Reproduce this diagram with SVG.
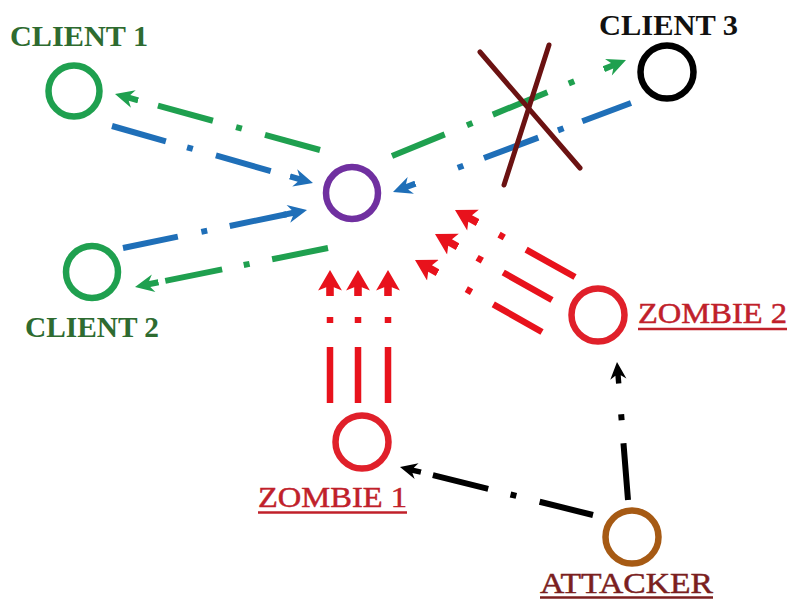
<svg xmlns="http://www.w3.org/2000/svg" width="793" height="601" viewBox="0 0 793 601">
  <style>
    .node { fill: none; stroke-width: 6.5; }
    .lbl { font-family: "Liberation Serif", "Times New Roman", serif; font-size: 30px; }
    .lbl-b { font-weight: bold; font-size: 29px; }
    .link { fill: none; stroke-linecap: butt; }
    .g { stroke: #1fa04f; stroke-width: 6; marker-end: url(#ah-green); }
    .b { stroke: #1f6fb8; stroke-width: 6; marker-end: url(#ah-blue); }
    .r { stroke: #e8121c; stroke-width: 6.5; marker-end: url(#ah-red); }
    .k { stroke: #000; stroke-width: 6; marker-end: url(#ah-black); }
    .uline { stroke-width: 2.5; }
  </style>
  <defs>
    <marker id="ah-green" viewBox="0 -10 24 20" refX="24" refY="0" markerWidth="24" markerHeight="20" markerUnits="userSpaceOnUse" orient="auto">
      <path d="M24,0 L5,-9 L9,-3 L0,-3 L0,3 L9,3 L5,9 Z" fill="#1fa04f"/>
    </marker>
    <marker id="ah-blue" viewBox="0 -10 24 20" refX="24" refY="0" markerWidth="24" markerHeight="20" markerUnits="userSpaceOnUse" orient="auto">
      <path d="M24,0 L5,-9 L9,-3 L0,-3 L0,3 L9,3 L5,9 Z" fill="#1f6fb8"/>
    </marker>
    <marker id="ah-red" viewBox="0 -11 24 22" refX="24" refY="0" markerWidth="26" markerHeight="24" markerUnits="userSpaceOnUse" orient="auto">
      <path d="M24,0 L5,-11 L8,-3.5 L0,-3.5 L0,3.5 L8,3.5 L5,11 Z" fill="#e8121c"/>
    </marker>
    <marker id="ah-black" viewBox="0 -10 24 20" refX="24" refY="0" markerWidth="22" markerHeight="18" markerUnits="userSpaceOnUse" orient="auto">
      <path d="M24,0 L5,-9 L9,-3 L0,-3 L0,3 L9,3 L5,9 Z" fill="#000"/>
    </marker>
  </defs>

  <rect width="793" height="601" fill="#fff"/>

  <!-- connectors: dash-dot traffic lines -->
  <g id="connectors">
    <!-- server to clients (green) -->
    <path class="link g" d="M320,150 L115,94" stroke-dasharray="57 24 6 24 57 1000"/>
    <path class="link g" d="M328,248 L135,287" stroke-dasharray="57 23 6 22 58 1000"/>
    <path class="link g" d="M392,156 L626,60" stroke-dasharray="57 24 6 22 59 23 6 1000"/>
    <!-- clients to server (blue) -->
    <path class="link b" d="M112,126 L313,183" stroke-dasharray="56 22 6 24 57 1000"/>
    <path class="link b" d="M123,248 L307,210" stroke-dasharray="56 24 6 23 58 1000"/>
    <path class="link b" d="M631,103 L393,192" stroke-dasharray="52 20 6 21 58 22 6 1000"/>
    <!-- zombie 1 flood -->
    <path class="link r" d="M330,403 L330,270" stroke-dasharray="56 24 6 1000"/>
    <path class="link r" d="M358,403 L358,270" stroke-dasharray="56 24 6 1000"/>
    <path class="link r" d="M388,403 L388,270" stroke-dasharray="56 24 6 1000"/>
    <!-- zombie 2 flood -->
    <path class="link r" d="M575,277 L455,210" stroke-dasharray="56 25 6 1000"/>
    <path class="link r" d="M552,300 L435,234" stroke-dasharray="56 24 6 1000"/>
    <path class="link r" d="M542,332 L415,260" stroke-dasharray="56 25 6 1000"/>
    <!-- attacker commands -->
    <path class="link k" d="M593,515 L400,467" stroke-dasharray="55 24 6 23 57 1000"/>
    <path class="link k" d="M628,500 L617,362" stroke-dasharray="57 23 6 1000"/>
  </g>

  <!-- blocked link to client 3 -->
  <g id="blocked" stroke="#6b1212" stroke-width="5" stroke-linecap="round">
    <line x1="480" y1="52" x2="580" y2="168"/>
    <line x1="549" y1="45" x2="504" y2="185"/>
  </g>

  <g id="server">
    <circle class="node" cx="352" cy="193" r="26" stroke="#7030a0"/>
  </g>

  <g id="client1">
    <circle class="node" cx="74" cy="91" r="25.5" stroke="#1fa04f"/>
    <text class="lbl lbl-b" x="10" y="46" fill="#2e6b30" textLength="138" lengthAdjust="spacingAndGlyphs">CLIENT 1</text>
  </g>

  <g id="client2">
    <circle class="node" cx="92" cy="272" r="26" stroke="#1fa04f"/>
    <text class="lbl lbl-b" x="25" y="337" fill="#2e6b30" textLength="134" lengthAdjust="spacingAndGlyphs">CLIENT 2</text>
  </g>

  <g id="client3">
    <circle class="node" cx="667" cy="72" r="26.5" stroke="#000"/>
    <text class="lbl lbl-b" x="599" y="35" fill="#111" textLength="139" lengthAdjust="spacingAndGlyphs">CLIENT 3</text>
  </g>

  <g id="zombie1">
    <circle class="node" cx="362" cy="442" r="26.5" stroke="#e0202a"/>
    <text class="lbl" x="258" y="507" fill="#c0202a" stroke="#c0202a" stroke-width="0.5" textLength="149" lengthAdjust="spacingAndGlyphs">ZOMBIE 1</text>
    <line class="uline" x1="258" y1="512.5" x2="407" y2="512.5" stroke="#c0202a"/>
  </g>

  <g id="zombie2">
    <circle class="node" cx="598" cy="315" r="26.5" stroke="#e0202a"/>
    <text class="lbl" x="638" y="323" fill="#c0202a" stroke="#c0202a" stroke-width="0.5" textLength="149" lengthAdjust="spacingAndGlyphs">ZOMBIE 2</text>
    <line class="uline" x1="638" y1="329" x2="787" y2="329" stroke="#c0202a"/>
  </g>

  <g id="attacker">
    <circle class="node" cx="632" cy="537" r="26.5" stroke="#a65a14"/>
    <text class="lbl" x="540" y="593" fill="#7b1f1f" stroke="#7b1f1f" stroke-width="0.5" textLength="173" lengthAdjust="spacingAndGlyphs">ATTACKER</text>
    <line class="uline" x1="540" y1="597.5" x2="713" y2="597.5" stroke="#7b1f1f"/>
  </g>
</svg>
